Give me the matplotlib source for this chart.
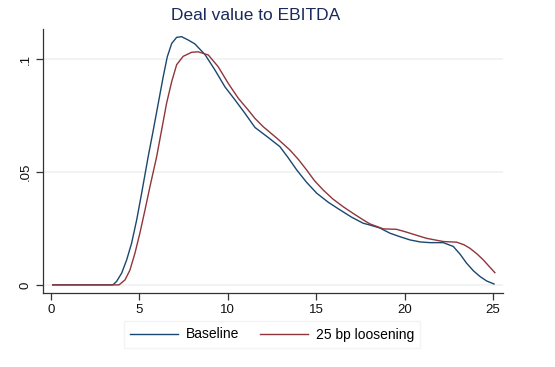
import matplotlib
matplotlib.use("Agg")
import matplotlib.pyplot as plt

plt.rcParams['font.family'] = ['Liberation Sans', 'DejaVu Sans']

title = "Deal value to EBITDA"
labels = ["Baseline", "25 bp loosening"]

base_x = [0.1, 3.5, 3.71, 4.0, 4.28, 4.56, 4.85, 5.13, 5.5, 5.79, 6.07, 6.35, 6.58, 6.83,
          7.11, 7.39, 7.77, 8.14, 8.71, 9.28, 9.84, 10.41, 10.97, 11.54, 12.25, 12.95,
          13.4, 13.9, 14.45, 15.03, 15.7, 16.35, 17.0, 17.66, 18.04, 18.6, 19.17, 19.75,
          20.31, 20.9, 21.44, 22.19, 22.76, 23.15, 23.51, 23.9, 24.27, 24.65, 25.06]
base_y = [0.0, 0.0, 0.0015, 0.0052, 0.0110, 0.0184, 0.0288, 0.0406, 0.0568, 0.0686, 0.0804,
          0.0922, 0.1010, 0.1069, 0.1096, 0.1099, 0.1084, 0.1067, 0.1020, 0.0951, 0.0877,
          0.0819, 0.0760, 0.0697, 0.0655, 0.0612, 0.0565, 0.0509, 0.0455, 0.0406, 0.0365,
          0.0332, 0.0300, 0.0273, 0.0265, 0.0252, 0.0229, 0.0213, 0.0199, 0.0190, 0.0187,
          0.0187, 0.0170, 0.0135, 0.0096, 0.0062, 0.0037, 0.0017, 0.0004]

loose_x = [0.1, 3.85, 4.19, 4.47, 4.75, 5.03, 5.32, 5.6, 5.98, 6.26, 6.54, 6.83, 7.11,
           7.48, 7.96, 8.33, 8.9, 9.46, 10.03, 10.6, 11.16, 11.54, 12.01, 12.8, 13.52,
           14.0, 14.46, 14.9, 15.4, 15.95, 16.53, 17.1, 17.66, 18.04, 18.8, 19.55, 20.05,
           20.5, 21.25, 22.19, 22.95, 23.35, 23.7, 24.1, 24.45, 25.11]
loose_y = [0.0, 0.0, 0.0022, 0.0066, 0.0140, 0.0229, 0.0332, 0.0435, 0.0568, 0.0686, 0.0804,
           0.0900, 0.0975, 0.1012, 0.1030, 0.1032, 0.1018, 0.0966, 0.0892, 0.0826, 0.0774,
           0.0737, 0.0700, 0.0648, 0.0597, 0.0555, 0.0509, 0.0462, 0.0420, 0.0380, 0.0346,
           0.0316, 0.0288, 0.0270, 0.0248, 0.0246, 0.0235, 0.0224, 0.0206, 0.0192, 0.0189,
           0.0178, 0.0162, 0.0137, 0.0111, 0.0054]

xticks = [0, 5, 10, 15, 20, 25]
yticks = [0, 0.05, 0.1]
ytick_labels = ["0", ".05", ".1"]

fig = plt.figure(figsize=(5.55, 3.67), dpi=100)
ax = fig.add_axes([43/555, 1 - 293/367, (503 - 43)/555, (293 - 29)/367])

for yv in yticks:
    ax.axhline(yv, color="#eef2f2", lw=1.2, zorder=0)

ax.plot(base_x, base_y, color="#1a476f", lw=1.0, label=labels[0], solid_joinstyle="round")
ax.plot(loose_x, loose_y, color="#90353b", lw=1.0, label=labels[1], solid_joinstyle="round")

ax.set_xlim(-0.45, 25.57)
ax.set_ylim(-0.0036, 0.1133)
ax.set_xticks(xticks)
ax.set_yticks(yticks)
ax.set_yticklabels(ytick_labels, rotation=90, va="center")
for s in ["top", "right"]:
    ax.spines[s].set_visible(False)
for s in ["left", "bottom"]:
    ax.spines[s].set_color("#333333")
    ax.spines[s].set_linewidth(0.9)
ax.tick_params(direction="out", length=5, width=0.9, color="#333333",
               labelsize=9.5, labelcolor="#111111", pad=3)

fig.text(0.461, 0.957, title, ha="center", va="center", fontsize=12.5, color="#1a2a5a")

leg = fig.legend(loc="center", bbox_to_anchor=(272/555, 1 - 334.5/367), ncol=2, frameon=True,
                 fontsize=10, handlelength=3.45, columnspacing=1.45, handletextpad=0.6,
                 borderpad=0.45, fancybox=False)
leg.get_frame().set_edgecolor("#eef2f2")
leg.get_frame().set_linewidth(1.0)

fig.savefig("out.png", dpi=100)
